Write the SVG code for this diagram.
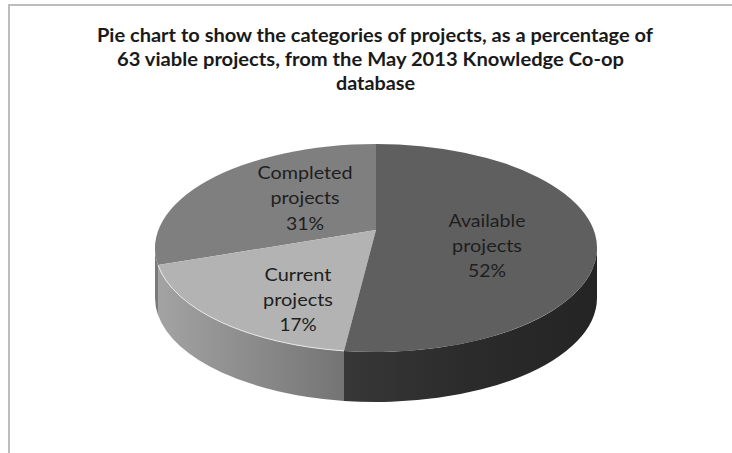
<svg xmlns="http://www.w3.org/2000/svg" width="732" height="453" viewBox="0 0 732 453">
<style>
.title{font-family:Lato,"Liberation Sans",sans-serif;font-weight:bold;font-size:18px;fill:#1a1a1a}
.lbl{font-family:Lato,"Liberation Sans",sans-serif;font-size:18px;fill:#1e1e1e}
</style>
<defs>
<linearGradient id="gCur" gradientUnits="userSpaceOnUse" x1="158" y1="0" x2="344" y2="0">
<stop offset="0" stop-color="#a3a3a3"/><stop offset="1" stop-color="#747474"/>
</linearGradient>
<linearGradient id="gAv" gradientUnits="userSpaceOnUse" x1="344" y1="0" x2="597" y2="0">
<stop offset="0" stop-color="#373737"/><stop offset="0.5" stop-color="#2b2b2b"/><stop offset="1" stop-color="#242424"/>
</linearGradient>
</defs>
<rect x="0" y="0" width="732" height="453" fill="#ffffff"/>
<rect id="frame" x="9" y="5" width="740" height="460" fill="#ffffff" stroke="#bdbdbd" stroke-width="2"/>
<g id="title">
<text class="title" x="97" y="42" textLength="556" lengthAdjust="spacingAndGlyphs">Pie chart to show the categories of projects, as a percentage of</text>
<text class="title" x="117" y="66" textLength="507" lengthAdjust="spacingAndGlyphs">63 viable projects, from the May 2013 Knowledge Co-op</text>
<text class="title" x="336" y="90" textLength="79" lengthAdjust="spacingAndGlyphs">database</text>
</g>
<g id="completed">
<path d="M155,248 A221,104 0 0 0 158,265.1 L158,315.1 A221,104 0 0 1 155,298 Z" fill="#7a7a7a"/>
<path d="M376,230 L158,265.1 A221,104 0 0 1 376,144 Z" fill="#7f7f7f"/>
<text class="lbl" x="257.5" y="179" textLength="95" lengthAdjust="spacingAndGlyphs">Completed</text>
<text class="lbl" x="270.5" y="204" textLength="69" lengthAdjust="spacingAndGlyphs">projects</text>
<text class="lbl" x="286" y="230" textLength="38" lengthAdjust="spacingAndGlyphs">31%</text>
</g>
<g id="current">
<path d="M158,265.1 A221,104 0 0 0 344,350.9 L344,400.9 A221,104 0 0 1 158,315.1 Z" fill="url(#gCur)"/>
<path d="M376,230 L344,350.9 A221,104 0 0 1 158,265.1 Z" fill="#b3b3b3"/>
<path d="M158,265.1 A221,104 0 0 0 344,350.9" fill="none" stroke="#e6e6e6" stroke-width="1"/>
<text class="lbl" x="264.5" y="281" textLength="67" lengthAdjust="spacingAndGlyphs">Current</text>
<text class="lbl" x="263" y="306" textLength="70" lengthAdjust="spacingAndGlyphs">projects</text>
<text class="lbl" x="279.5" y="331" textLength="37" lengthAdjust="spacingAndGlyphs">17%</text>
</g>
<g id="available">
<path d="M344,350.9 A221,104 0 0 0 597,248 L597,298 A221,104 0 0 1 344,400.9 Z" fill="url(#gAv)"/>
<path d="M376,230 L376,144 A221,104 0 1 1 344,350.9 Z" fill="#5f5f5f"/>
<text class="lbl" x="448.5" y="227" textLength="77" lengthAdjust="spacingAndGlyphs">Available</text>
<text class="lbl" x="452" y="252" textLength="70" lengthAdjust="spacingAndGlyphs">projects</text>
<text class="lbl" x="468" y="277" textLength="38" lengthAdjust="spacingAndGlyphs">52%</text>
</g>
<g id="connectors"/>
</svg>
